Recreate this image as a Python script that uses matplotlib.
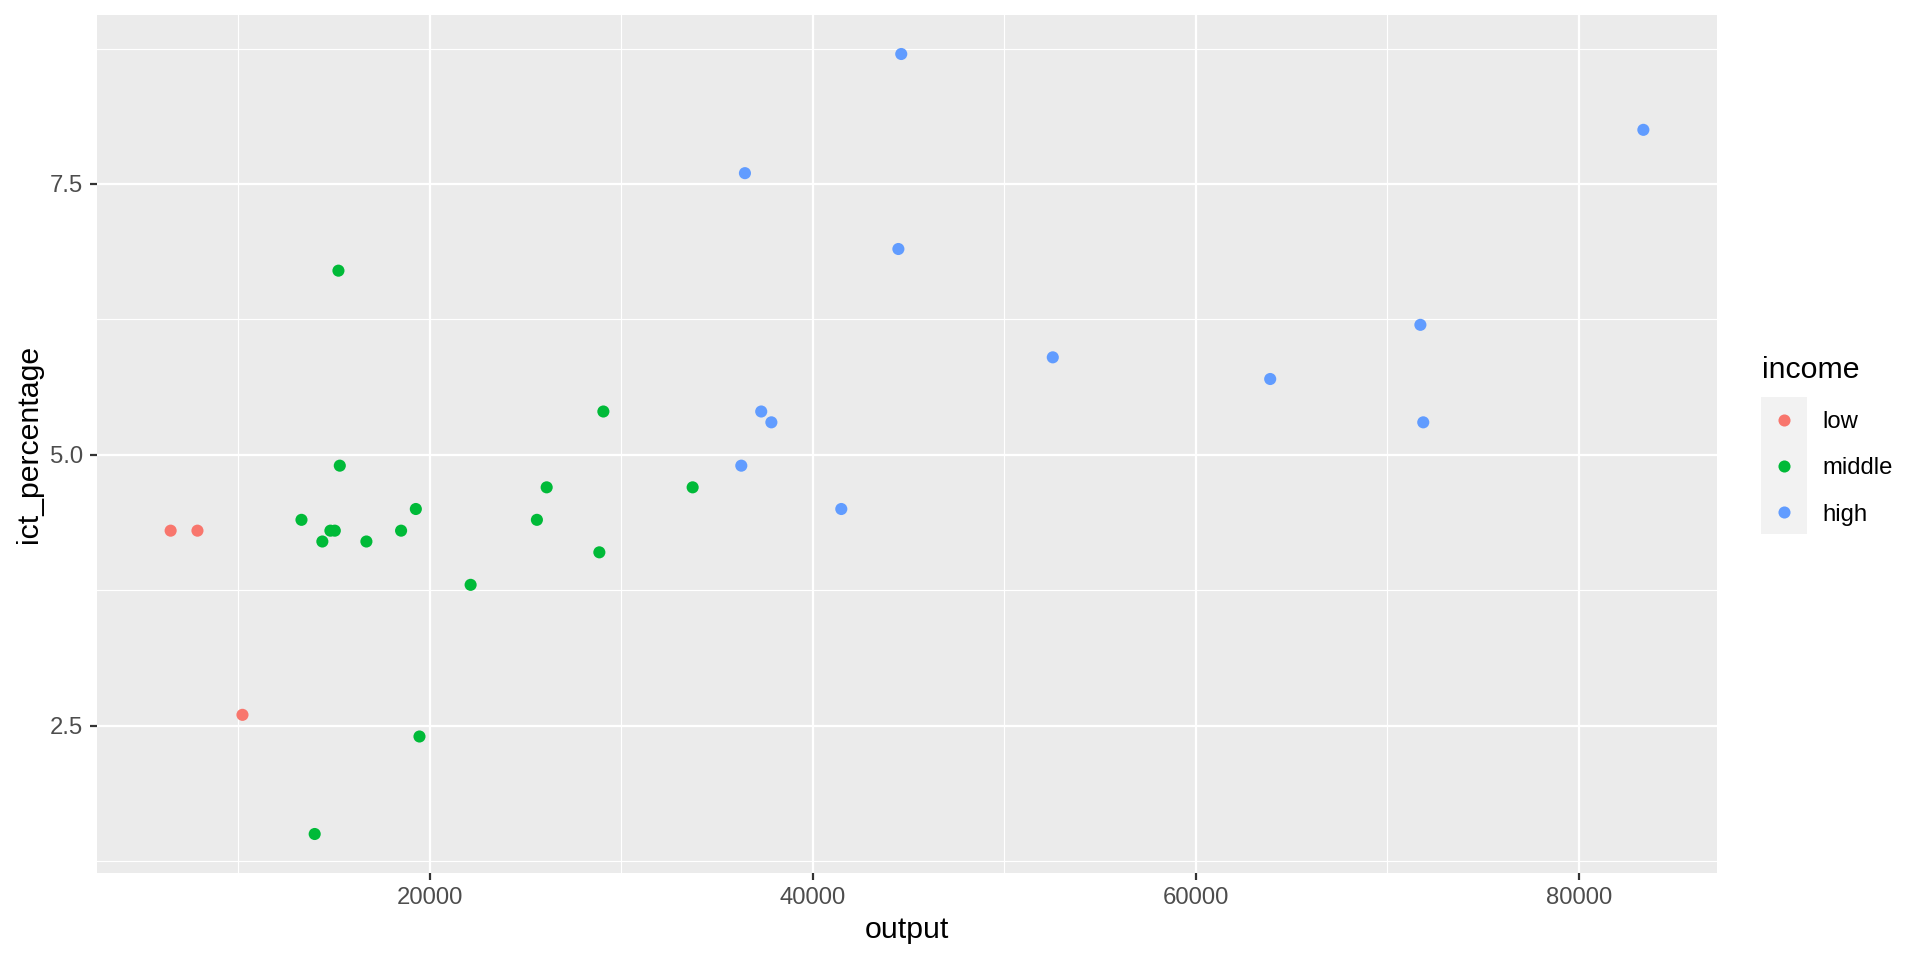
import matplotlib
matplotlib.use("Agg")
import matplotlib.pyplot as plt
from matplotlib.lines import Line2D
from matplotlib.patches import Rectangle

plt.rcParams['font.family'] = ['Liberation Sans', 'DejaVu Sans']

# ---- data ----
groups = ["low", "middle", "high"]
colors = ["#F8766D", "#00BA38", "#619CFF"]

low_output = [6480, 7880, 10230]
low_ict = [4.3, 4.3, 2.6]

middle_output = [13310, 14000, 14400, 14820, 15050, 15240, 15310, 16700, 18510,
                 19280, 19470, 22140, 25600, 26110, 28860, 29070, 33730]
middle_ict = [4.4, 1.5, 4.2, 4.3, 4.3, 6.7, 4.9, 4.2, 4.3,
              4.5, 2.4, 3.8, 4.4, 4.7, 4.1, 5.4, 4.7]

high_output = [36460, 36270, 37310, 37840, 41490, 44470, 44620, 52530, 63880,
               71720, 71870, 83360]
high_ict = [7.6, 4.9, 5.4, 5.3, 4.5, 6.9, 8.7, 5.9, 5.7, 6.2, 5.3, 8.0]

x_major = [20000, 40000, 60000, 80000]
x_minor = [10000, 30000, 50000, 70000]
y_major = [2.5, 5.0, 7.5]
y_minor = [1.25, 3.75, 6.25, 8.75]
x_labels = ["20000", "40000", "60000", "80000"]
y_labels = ["2.5", "5.0", "7.5"]

# ---- figure ----
W, H = 1920, 960
fig = plt.figure(figsize=(W / 100, H / 100), dpi=100)
L, R, T, B = 97, 1717, 15, 873
ax = fig.add_axes([L / W, 1 - B / H, (R - L) / W, (B - T) / H])
ax.set_facecolor("#EBEBEB")
for s in ax.spines.values():
    s.set_visible(False)

xs = [low_output, middle_output, high_output]
ys = [low_ict, middle_ict, high_ict]
for xv, yv, c in zip(xs, ys, colors):
    ax.scatter(xv, yv, s=76, color=c, edgecolors="none", zorder=3)

allx = low_output + middle_output + high_output
ally = low_ict + middle_ict + high_ict
dx = (max(allx) - min(allx)) * 0.05
dy = (max(ally) - min(ally)) * 0.05
ax.set_xlim(min(allx) - dx, max(allx) + dx)
ax.set_ylim(min(ally) - dy, max(ally) + dy)

ax.set_xticks(x_major)
ax.set_xticklabels(x_labels)
ax.set_yticks(y_major)
ax.set_yticklabels(y_labels)
ax.set_xticks(x_minor, minor=True)
ax.set_yticks(y_minor, minor=True)
ax.grid(True, which="major", color="white", linewidth=1.6, zorder=0)
ax.grid(True, which="minor", color="white", linewidth=0.8, zorder=0)
ax.set_axisbelow(True)
ax.tick_params(axis="both", which="major", length=5.3, width=1.6, color="#333333",
               labelsize=17.2, labelcolor="#4D4D4D", pad=4.5)
ax.tick_params(axis="both", which="minor", length=0)

ax.set_xlabel("output", fontsize=21.8, color="black", labelpad=5)
fig.text(15 / W, 1 - 444 / H, "ict_percentage", rotation=90, fontsize=21.8,
         ha="left", va="center", color="black")

# ---- legend ----
fig.text(1762 / W, 1 - 378 / H, "income", fontsize=21.8, ha="left", va="baseline")
fig.add_artist(Rectangle((1761 / W, 1 - 534 / H), 46 / W, 137 / H,
                         transform=fig.transFigure, facecolor="#F2F2F2",
                         edgecolor="none"))
key_y = [420, 466, 512]
for g, c, ky in zip(groups, colors, key_y):
    fig.add_artist(Line2D([1784 / W], [1 - ky / H], marker="o", markersize=8.7,
                          markerfacecolor=c, markeredgecolor="none",
                          linestyle="none", transform=fig.transFigure))
    fig.text(1822 / W, 1 - ky / H, g, fontsize=17.2, ha="left", va="center_baseline")

fig.savefig("out.png", dpi=100, facecolor="white")
